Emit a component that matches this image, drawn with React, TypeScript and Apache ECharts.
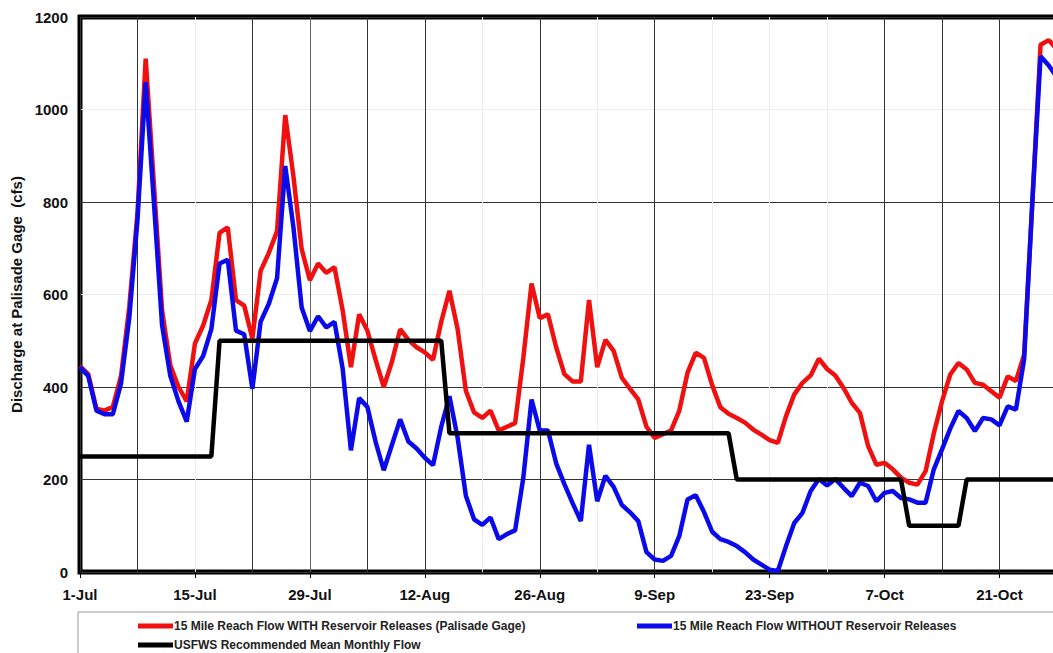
import React, { useEffect, useRef } from "react";
import * as echarts from "echarts";

// Day 0 = 1-Jul, one value per day
const withReleases = [
  445, 428, 353, 349, 357, 424, 573, 776, 1110, 839,
  565, 447, 400, 369, 494, 533, 588, 733, 745, 588,
  576, 505, 651, 690, 737, 988, 855, 698, 631, 667,
  647, 659, 565, 443, 557, 522, 459, 400, 455, 525,
  502, 486, 475, 459, 541, 608, 525, 392, 345, 333,
  349, 306, 314, 322, 463, 624, 549, 557, 486, 428,
  412, 412, 588, 443, 502, 478, 420, 396, 373, 314,
  290, 298, 306, 349, 431, 474, 463, 404, 356, 342,
  333, 323, 308, 297, 285, 279, 337, 384, 409, 425,
  461, 439, 425, 398, 366, 344, 272, 232, 236, 222,
  204, 193, 189, 218, 300, 369, 427, 452, 438, 409,
  405, 391, 377, 423, 413, 470, 800, 1140, 1150, 1130,
  1110, 1090, 1070,
];

const withoutReleases = [
  443, 424, 349, 341, 341, 408, 549, 761, 1059, 800,
  533, 424, 369, 325, 439, 467, 525, 667, 675, 522,
  514, 396, 541, 580, 635, 878, 745, 572, 521, 553,
  529, 541, 439, 263, 376, 357, 282, 220, 275, 330,
  282, 267, 247, 231, 314, 380, 290, 165, 114, 102,
  118, 71, 82, 90, 204, 373, 306, 306, 235, 190,
  149, 110, 275, 153, 208, 184, 145, 129, 110, 43,
  27, 24, 35, 78, 157, 166, 130, 87, 71, 65,
  56, 43, 27, 16, 5, 2, 56, 106, 128, 175,
  201, 187, 201, 182, 164, 193, 186, 153, 171, 175,
  160, 157, 150, 150, 222, 265, 310, 348, 333, 305,
  333, 330, 317, 358, 351, 460, 800, 1115, 1095, 1070,
  1050, 1030, 1010,
];

// USFWS recommended flow: breakpoints (day index, cfs)
const recommendedDays = [0, 16, 17, 44, 45, 79, 80, 100, 101, 107, 108, 122];
const recommendedFlows = [250, 250, 500, 500, 300, 300, 200, 200, 100, 100, 200, 200];

const tickLabels = ["1-Jul", "15-Jul", "29-Jul", "12-Aug", "26-Aug", "9-Sep", "23-Sep", "7-Oct", "21-Oct"];

const seriesNames = [
  "15 Mile Reach Flow WITH Reservoir Releases (Palisade Gage)",
  "15 Mile Reach Flow WITHOUT Reservoir Releases",
  "USFWS Recommended Mean Monthly Flow",
];

const FONT = "'Liberation Sans', Arial, Helvetica, sans-serif";
const DARK = "#333";
const MED = "#666";
const FAINT = "#ececec";
const vGridColors = [
  DARK, DARK, FAINT, DARK, MED, DARK, DARK, FAINT, DARK, FAINT,
  DARK, FAINT, FAINT, FAINT, DARK, DARK, DARK, DARK, DARK,
];
const hGridColors = [DARK, DARK, DARK, FAINT, DARK, FAINT, DARK];

const CHART_W = 1110;
const CHART_H = 720;

export default function App() {
  const ref = useRef<HTMLDivElement>(null);

  useEffect(() => {
    if (!ref.current) return;
    const chart = echarts.init(ref.current, undefined, { renderer: "svg" });
    const labelStyle = { fontFamily: FONT, fontWeight: "bold" as const, fontSize: 15, color: "#111" };
    const legendText = { fontFamily: FONT, fontWeight: "bold" as const, fontSize: 12, color: "#222" };
    chart.setOption({
      animation: false,
      backgroundColor: "#fff",
      grid: {
        left: 80,
        top: 17,
        right: CHART_W - 1081.6,
        bottom: CHART_H - 572,
        show: true,
        borderColor: "#000",
        borderWidth: 5,
        backgroundColor: "transparent",
      },
      xAxis: [
        {
          type: "value",
          position: "top",
          min: 0,
          max: 122,
          interval: 7,
          axisLine: { show: false },
          axisTick: { show: false },
          axisLabel: { show: false },
          splitLine: { show: true, showMinLine: true, showMaxLine: true, lineStyle: { color: vGridColors, width: 1 } },
        },
        {
          type: "value",
          position: "bottom",
          min: 0,
          max: 122,
          interval: 14,
          axisLine: { show: false },
          axisTick: { show: true, length: 6, lineStyle: { color: "#000", width: 1 } },
          splitLine: { show: false },
          axisLabel: {
            ...labelStyle,
            margin: 15,
            formatter: (v: number) => (v % 14 === 0 && tickLabels[v / 14]) || "",
          },
        },
      ],
      yAxis: {
        type: "value",
        min: 0,
        max: 1200,
        interval: 200,
        axisLine: { show: false },
        axisTick: { show: false },
        splitLine: { show: true, showMinLine: true, showMaxLine: true, lineStyle: { color: hGridColors, width: 1 } },
        axisLabel: { ...labelStyle, margin: 12, formatter: (v: number) => String(v) },
        name: "Discharge at Palisade Gage  (cfs)",
        nameLocation: "middle",
        nameGap: 55,
        nameTextStyle: { ...labelStyle, fontSize: 15 },
      },
      legend: [
        {
          orient: "vertical",
          left: 133,
          top: 615,
          height: 80,
          itemGap: 7,
          itemWidth: 35,
          itemHeight: 5,
          icon: "rect",
          selectedMode: false,
          data: [seriesNames[0], seriesNames[2]],
          textStyle: { ...legendText, padding: [0, 0, 0, -4] },
        },
        {
          orient: "vertical",
          left: 632,
          top: 615,
          height: 80,
          itemWidth: 35,
          itemHeight: 5,
          icon: "rect",
          selectedMode: false,
          data: [seriesNames[1]],
          textStyle: { ...legendText, padding: [0, 0, 0, -4] },
        },
      ],
      graphic: [
        {
          type: "rect",
          shape: { x: 78, y: 612, width: 1010, height: 80 },
          style: { fill: "none", stroke: "#999", lineWidth: 1 },
          z: -1,
        },
      ],
      series: [
        {
          name: seriesNames[0],
          type: "line",
          xAxisIndex: 0,
          showSymbol: false,
          color: "#f01010",
          lineStyle: { width: 4.5, color: "#f01010" },
          data: withReleases.map((v, i) => [i, v]),
          z: 2,
        },
        {
          name: seriesNames[1],
          type: "line",
          xAxisIndex: 0,
          showSymbol: false,
          color: "#0a0aeb",
          lineStyle: { width: 4.5, color: "#0a0aeb" },
          data: withoutReleases.map((v, i) => [i, v]),
          z: 3,
        },
        {
          name: seriesNames[2],
          type: "line",
          xAxisIndex: 0,
          showSymbol: false,
          color: "#000",
          lineStyle: { width: 4.5, color: "#000" },
          data: recommendedDays.map((d, i) => [d, recommendedFlows[i]]),
          z: 4,
        },
      ],
    });
    return () => chart.dispose();
  }, []);

  return (
    <div style={{ position: "fixed", left: 0, top: 0, width: 1053, height: 653, overflow: "hidden", background: "#fff" }}>
      <div ref={ref} style={{ width: CHART_W, height: CHART_H }} />
    </div>
  );
}
